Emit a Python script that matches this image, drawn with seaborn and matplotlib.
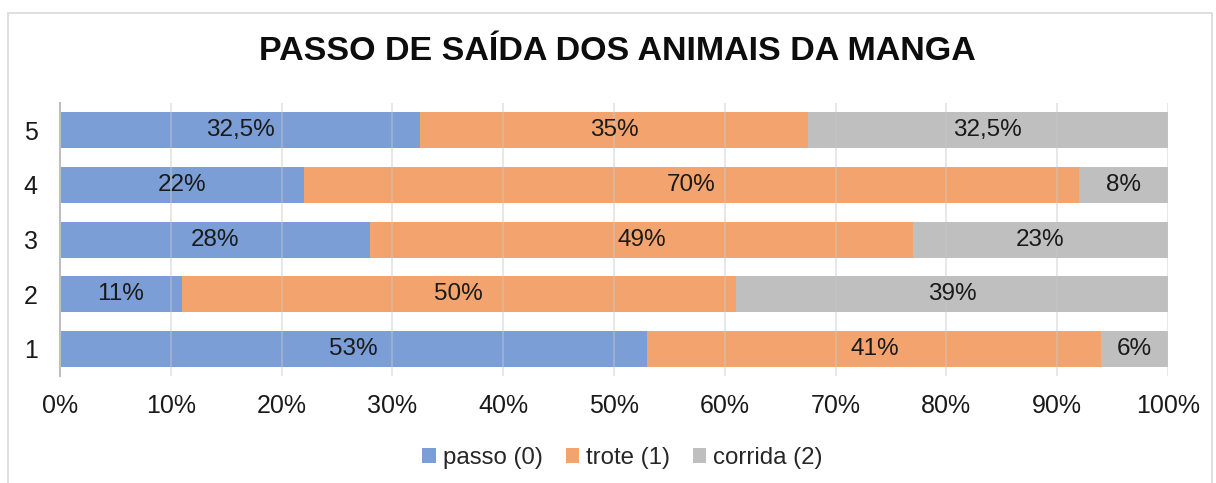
import numpy as np
import pandas as pd
import seaborn as sns
import matplotlib
matplotlib.use("Agg")
import matplotlib.pyplot as plt
import matplotlib.ticker as mticker
from matplotlib.patches import Patch, Rectangle

# data (percent of animals per exit pace)
grupos = ["5", "4", "3", "2", "1"]
passo = [32.5, 22, 28, 11, 53]
trote = [35, 70, 49, 50, 41]
corrida = [32.5, 8, 23, 39, 6]
series_nomes = ["passo (0)", "trote (1)", "corrida (2)"]
cores = ["#7B9ED7", "#F3A46E", "#BFBFBF"]

df = pd.DataFrame({"grupo": grupos, "passo": passo, "trote": trote, "corrida": corrida})
df["c1"] = df["passo"]
df["c2"] = df["passo"] + df["trote"]
df["c3"] = df["c2"] + df["corrida"]

sns.set_style("white")
plt.rcParams["font.family"] = ["Liberation Sans", "DejaVu Sans"]

fig = plt.figure(figsize=(12.16, 4.83), dpi=100)
ax = fig.add_axes([0.0493, 0.2215, 0.9112, 0.5652])

# stacked bars: draw cumulative totals, longest first
for col, cor in zip(["c3", "c2", "c1"], cores[::-1]):
    sns.barplot(data=df, x=col, y="grupo", order=grupos, color=cor,
                width=0.66, orient="h", ax=ax, saturation=1, linewidth=0)

# segment labels
def fmt(v):
    s = ("%.1f" % v).rstrip("0").rstrip(".")
    return s.replace(".", ",") + "%"

for i in range(len(grupos)):
    left = 0
    for v in [passo[i], trote[i], corrida[i]]:
        ax.text(left + v / 2, i, fmt(v), ha="center", va="center",
                fontsize=17.5, color="#1a1a1a")
        left += v

ax.set_xlim(0, 100)
ax.set_ylim(4.5, -0.5)
ax.xaxis.set_major_locator(mticker.MultipleLocator(10))
ax.xaxis.set_major_formatter(mticker.FuncFormatter(lambda x, p: "%d%%" % x))
ax.set_xlabel("")
ax.set_ylabel("")
ax.tick_params(axis="both", length=0, labelsize=18, colors="#1a1a1a")
ax.tick_params(axis="x", pad=13)
ax.tick_params(axis="y", pad=16)

ax.set_axisbelow(False)
ax.grid(axis="x", color="#C8C8C8", linewidth=1.2, alpha=0.5)
ax.grid(axis="y", visible=False)
for s in ["top", "right", "bottom"]:
    ax.spines[s].set_visible(False)
ax.spines["left"].set_color("#BFBFBF")
ax.spines["left"].set_linewidth(1.5)
ax.spines["left"].set_zorder(5)

fig.suptitle("PASSO DE SAÍDA DOS ANIMAIS DA MANGA", x=0.508, y=0.925,
             fontsize=24.5, fontweight="bold", color="#0d0d0d")

handles = [Patch(facecolor=c, edgecolor="none", label=n) for c, n in zip(cores, series_nomes)]
fig.legend(handles=handles, loc="center", bbox_to_anchor=(0.512, 0.052), ncol=3,
           frameon=False, fontsize=17.3, handlelength=0.55, handleheight=0.55,
           handletextpad=0.3, columnspacing=0.95)

# outer chart border
fig.patches.append(Rectangle((0.0066, -0.05), 0.99, 1.023, transform=fig.transFigure,
                             fill=False, edgecolor="#D9D9D9", linewidth=1.2))

fig.savefig("out.png", dpi=100)
